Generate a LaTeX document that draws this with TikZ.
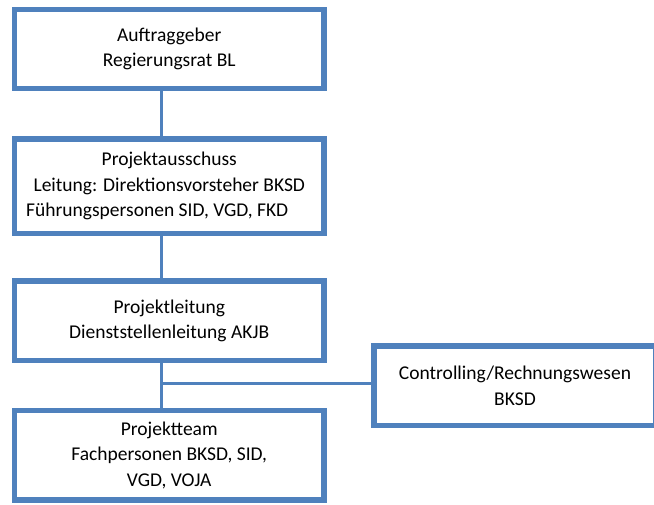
\documentclass[tikz,border=0pt]{standalone}
\usepackage{fontspec}
\setmainfont{Carlito}
\definecolor{boxblue}{HTML}{4F81BD}
\begin{document}
\begin{tikzpicture}[x=1pt,y=-1pt,
  orgbox/.style={draw=boxblue, line width=5.5pt, fill=white, rectangle, inner sep=0pt,
    align=center, font=\fontsize{19.5}{25.5}\selectfont, text=black},
  link/.style={draw=boxblue, line width=3pt}]
\useasboundingbox (0,0) rectangle (654,504);
\begin{scope}
\clip (0,0) rectangle (654,504);
\node[orgbox, minimum width=309.5pt, minimum height=79pt] (a) at (169.25,49)
  {Auftraggeber\\Regierungsrat BL};
\node[orgbox, minimum width=309.5pt, minimum height=94.5pt] (b) at (169.25,186.25)
  {Projektausschuss\\Leitung: Direktionsvorsteher BKSD\\Führungspersonen SID, VGD, FKD\hspace*{24pt}};
\node[orgbox, minimum width=309.5pt, minimum height=79.5pt] (c) at (169.25,320.75)
  {Projektleitung\\Dienststellenleitung AKJB};
\node[orgbox, minimum width=309.5pt, minimum height=89.5pt] (d) at (169.25,455.25)
  {Projektteam\\Fachpersonen BKSD, SID,\\VGD, VOJA};
\node[orgbox, minimum width=282pt, minimum height=79.5pt] (e) at (515,385.75)
  {Controlling/Rechnungswesen\\BKSD};
\coordinate (j) at (161.5,383);
\draw[link] (a.south -| j) -- (b.north -| j);
\draw[link] (b.south -| j) -- (c.north -| j);
\draw[link] (c.south -| j) -- (d.north -| j);
\draw[link] (j) -- (j -| e.west);
\end{scope}
\end{tikzpicture}
\end{document}
